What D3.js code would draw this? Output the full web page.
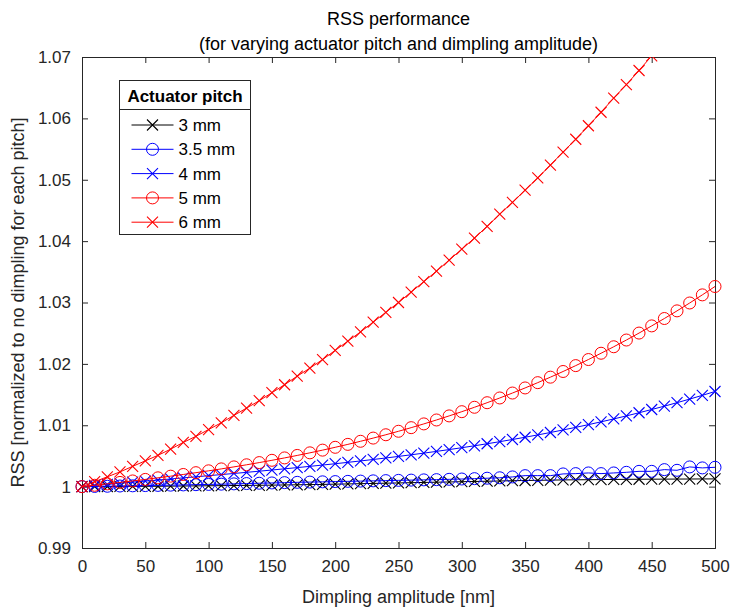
<!DOCTYPE html>
<html>
<head>
<meta charset="utf-8">
<title>RSS performance</title>
<script src="https://d3js.org/d3.v7.min.js"></script>
<style>
  body { margin: 0; background: #fff; }
  svg { font-family: "Liberation Sans", Arial, Helvetica, sans-serif; }
  .tick text { fill: #262626; font-size: 17px; }
  .tick line, .domain { stroke: #262626; }
</style>
</head>
<body>
<div id="chart"></div>
<script>
// dimpling amplitude [nm], 0..500 every 10 nm
const amplitude = d3.range(0, 501, 10);
const pitchLabels = ['3 mm', '3.5 mm', '4 mm', '5 mm', '6 mm'];

const rss3 = [1.0000, 1.00001, 1.00002, 1.00003, 1.00004, 1.00005, 1.00006, 1.00008, 1.00010, 1.00012,
  1.00014, 1.00016, 1.00018, 1.00020, 1.00022, 1.00024, 1.00027, 1.00030, 1.00033, 1.00036,
  1.00040, 1.00044, 1.00048, 1.00052, 1.00056, 1.00060, 1.00064, 1.00068, 1.00072, 1.00076,
  1.00080, 1.00084, 1.00088, 1.00092, 1.00096, 1.00100, 1.00103, 1.00106, 1.00109, 1.00111,
  1.00113, 1.00115, 1.00117, 1.00119, 1.00120, 1.00121, 1.00122, 1.00123, 1.00124, 1.00125, 1.00126];
const rss35 = [1.0000, 1.00003, 1.00006, 1.00010, 1.00013, 1.00017, 1.00020, 1.00024, 1.00028, 1.00032,
  1.00036, 1.00040, 1.00045, 1.00050, 1.00055, 1.00060, 1.00065, 1.00070, 1.00074, 1.00078,
  1.00082, 1.00086, 1.00090, 1.00094, 1.00098, 1.00102, 1.00106, 1.00110, 1.00114, 1.00119,
  1.00124, 1.00130, 1.00137, 1.00144, 1.00158, 1.00179, 1.00179, 1.00179, 1.00207, 1.00212,
  1.00223, 1.00212, 1.00223, 1.00233, 1.00249, 1.00249, 1.00277, 1.00266, 1.00321, 1.00305, 1.00315];
const rss4 = [1.0000, 1.000185, 1.000366, 1.000546, 1.000724, 1.000901, 1.001076, 1.001252, 1.001427, 1.001604,
  1.001782, 1.001961, 1.002142, 1.002327, 1.002514, 1.002704, 1.002900, 1.003100, 1.003304, 1.003515,
  1.003731, 1.003954, 1.004184, 1.004422, 1.004668, 1.004923, 1.005186, 1.005458, 1.005741, 1.006035,
  1.006340, 1.006656, 1.006984, 1.007324, 1.007678, 1.008045, 1.008425, 1.008821, 1.009232, 1.009657,
  1.010099, 1.010556, 1.011030, 1.011524, 1.012036, 1.012564, 1.013111, 1.013678, 1.014264, 1.014872, 1.015501];
const rss5 = [1.0000, 1.000221, 1.000449, 1.000683, 1.000925, 1.001175, 1.001434, 1.001703, 1.001980, 1.002272,
  1.002574, 1.002889, 1.003217, 1.003559, 1.003916, 1.004289, 1.004677, 1.005082, 1.005505, 1.005946,
  1.006406, 1.006886, 1.007387, 1.007909, 1.008452, 1.009018, 1.009607, 1.010220, 1.010859, 1.011523,
  1.012212, 1.012928, 1.013673, 1.014445, 1.015248, 1.016079, 1.016940, 1.017834, 1.018758, 1.019717,
  1.020707, 1.021732, 1.022790, 1.023887, 1.025019, 1.026187, 1.027392, 1.028637, 1.029921, 1.031244, 1.032608];
const rss6 = [1.0000, 1.0008, 1.0016, 1.0024, 1.0033, 1.0042, 1.0051, 1.0061, 1.0072, 1.0082,
  1.0093, 1.0104, 1.0116, 1.0128, 1.0140, 1.0153, 1.0166, 1.0180, 1.0193, 1.0207,
  1.0222, 1.0237, 1.0252, 1.0268, 1.0284, 1.0300, 1.0317, 1.0334, 1.0351, 1.0369,
  1.0387, 1.0405, 1.0424, 1.0444, 1.0463, 1.0483, 1.0503, 1.0524, 1.0545, 1.0566,
  1.0588, 1.0610, 1.0633, 1.0655, 1.0678, 1.0702, 1.0726, 1.0750, 1.0775, 1.0800, 1.0825];

const xTicks = [0, 50, 100, 150, 200, 250, 300, 350, 400, 450, 500];
const yTicks = [0.99, 1, 1.01, 1.02, 1.03, 1.04, 1.05, 1.06, 1.07];

const series = [
  { label: pitchLabels[0], values: rss3, color: '#000000', marker: 'x' },
  { label: pitchLabels[1], values: rss35, color: '#0000ff', marker: 'o' },
  { label: pitchLabels[2], values: rss4, color: '#0000ff', marker: 'x' },
  { label: pitchLabels[3], values: rss5, color: '#ff0000', marker: 'o' },
  { label: pitchLabels[4], values: rss6, color: '#ff0000', marker: 'x' }
];

const svgWidth = 731, svgHeight = 607;
const margin = { top: 57, right: 16, bottom: 59, left: 82 };
const width = svgWidth - margin.left - margin.right;
const height = svgHeight - margin.top - margin.bottom;

const svg = d3.select('#chart').append('svg')
  .attr('width', svgWidth)
  .attr('height', svgHeight);

const g = svg.append('g').attr('transform', `translate(${margin.left},${margin.top})`);

const x = d3.scaleLinear().domain([0, 500]).range([0, width]);
const y = d3.scaleLinear().domain([0.99, 1.07]).range([height, 0]);

g.append('clipPath').attr('id', 'clip')
  .append('rect').attr('x', -8).attr('y', 0).attr('width', width + 16).attr('height', height);

const tickLen = 6;
const xAxis = d3.axisBottom(x).tickValues(xTicks).tickSize(-tickLen).tickPadding(12).tickFormat(d3.format('d'));
const yAxis = d3.axisLeft(y).tickValues(yTicks).tickSize(-tickLen).tickPadding(11).tickFormat(d => d === 1 ? '1' : d3.format('.2f')(d));

g.append('g').attr('transform', `translate(0,${height})`).call(xAxis);
g.append('g').call(yAxis);
g.append('g').call(d3.axisTop(x).tickValues(xTicks).tickSize(-tickLen).tickFormat(''));
g.append('g').attr('transform', `translate(${width},0)`).call(d3.axisRight(y).tickValues(yTicks).tickSize(-tickLen).tickFormat(''));
g.selectAll('.domain').attr('stroke-width', 1);

const plot = g.append('g').attr('clip-path', 'url(#clip)');
const line = d3.line().x((d, i) => x(amplitude[i])).y(d => y(d));

function drawMarker(sel, type, color, cx, cy) {
  if (type === 'o') {
    sel.append('circle').attr('cx', cx).attr('cy', cy).attr('r', 6)
      .attr('fill', 'none').attr('stroke', color).attr('stroke-width', 1);
  } else {
    const s = 5.5;
    sel.append('path')
      .attr('d', `M${cx - s},${cy - s}L${cx + s},${cy + s}M${cx - s},${cy + s}L${cx + s},${cy - s}`)
      .attr('stroke', color).attr('stroke-width', 1.1).attr('fill', 'none');
  }
}

series.forEach(s => {
  const sg = plot.append('g');
  sg.append('path').datum(s.values)
    .attr('d', line).attr('fill', 'none').attr('stroke', s.color).attr('stroke-width', 1);
  s.values.forEach((v, i) => drawMarker(sg, s.marker, s.color, x(amplitude[i]), y(v)));
});

// titles and labels
svg.append('text').attr('x', margin.left + width / 2).attr('y', 25)
  .attr('text-anchor', 'middle').attr('font-size', 18).attr('fill', '#000').text('RSS performance');
svg.append('text').attr('x', margin.left + width / 2).attr('y', 50)
  .attr('text-anchor', 'middle').attr('font-size', 18).attr('fill', '#000').text('(for varying actuator pitch and dimpling amplitude)');
svg.append('text').attr('x', margin.left + width / 2).attr('y', 603)
  .attr('text-anchor', 'middle').attr('font-size', 18).attr('fill', '#262626').text('Dimpling amplitude [nm]');
svg.append('text')
  .attr('transform', `translate(24,${margin.top + height / 2}) rotate(-90)`)
  .attr('text-anchor', 'middle').attr('font-size', 18).attr('fill', '#262626')
  .text('RSS [normalized to no dimpling for each pitch]');

// legend
const lg = svg.append('g').attr('transform', 'translate(119.5,80.5)');
lg.append('rect').attr('width', 131).attr('height', 154)
  .attr('fill', '#fff').attr('stroke', '#262626').attr('stroke-width', 1);
lg.append('line').attr('x1', 0).attr('x2', 131).attr('y1', 29).attr('y2', 29)
  .attr('stroke', '#262626').attr('stroke-width', 1);
lg.append('text').attr('x', 65.5).attr('y', 21).attr('text-anchor', 'middle')
  .attr('font-size', 17).attr('font-weight', 'bold').attr('fill', '#000').text('Actuator pitch');
series.forEach((s, i) => {
  const cy = 44.5 + i * 24.3;
  lg.append('line').attr('x1', 12).attr('x2', 54).attr('y1', cy).attr('y2', cy)
    .attr('stroke', s.color).attr('stroke-width', 1);
  drawMarker(lg, s.marker, s.color, 33, cy);
  lg.append('text').attr('x', 59).attr('y', cy + 6).attr('font-size', 17).attr('fill', '#000').text(s.label);
});
</script>
</body>
</html>
